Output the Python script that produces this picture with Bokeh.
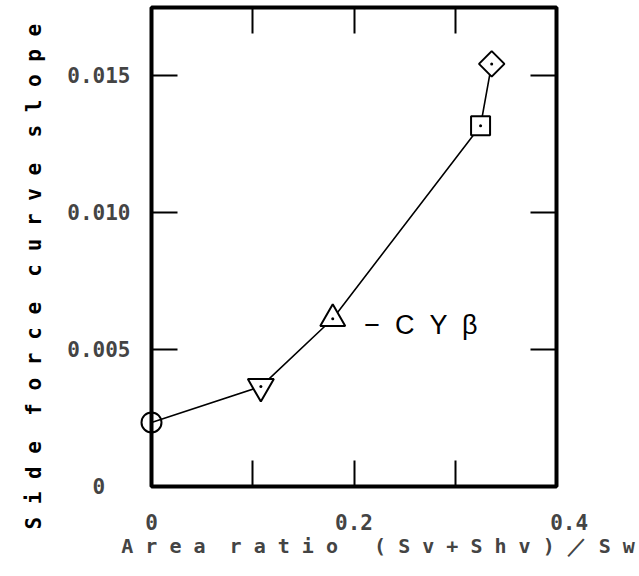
import math
from bokeh.plotting import figure
from bokeh.models import LinearAxis, FixedTicker, Label, Range1d, ColumnDataSource, Title
from bokeh.embed import file_html
from bokeh.resources import INLINE

# ---- data ----
area_ratio = [0.0, 0.108, 0.179, 0.325, 0.336]
cy_beta = [0.00234, 0.00365, 0.00613, 0.01318, 0.01544]
marker_kinds = ["circle", "inverted_triangle", "triangle", "square", "square"]
marker_angle = [0.0, 0.0, 0.0, 0.0, math.pi / 4]
marker_size = [20, 26, 25, 19, 18]
marker_fill = [None, "white", "white", "white", "white"]
dot_points = [1, 2, 3, 4]

x_ticks = [0.0, 0.2, 0.4]
x_minor = [0.1, 0.3]
x_tick_labels = {0.0: "0", 0.2: "0.2", 0.4: "\u00a0\u00a00.4"}
y_ticks = [0.0, 0.005, 0.010, 0.015]
y_tick_labels = {0.0: "0\u00a0\u00a0", 0.005: "0.005", 0.010: "0.010", 0.015: "0.015"}

x_title = "\u00a0\u00a0\u00a0\u00a0A r e a \u00a0r a t i o \u00a0\u00a0( S v + S h v ) \uff0f S w"
y_title = "S i d e \u00a0f o r c e \u00a0c u r v e \u00a0s l o p e"
curve_label = "\u2212 \u00a0C \u00a0Y \u00a0\u03b2"

p = figure(width=639, height=576, output_backend="svg", toolbar_location=None,
           x_range=Range1d(0, 0.4), y_range=Range1d(0, 0.0175),
           x_axis_type=None, y_axis_type=None,
           min_border_left=151, min_border_right=83, min_border_top=7, min_border_bottom=90)
p.background_fill_color = "white"
p.border_fill_color = "white"
p.outline_line_color = "black"
p.outline_line_width = 4
p.grid.visible = False

tick_font = "DejaVu Sans Mono"

def style_axis(ax, show_labels):
    ax.axis_line_color = None
    ax.major_tick_in = 26
    ax.major_tick_out = 0
    ax.minor_tick_in = 26
    ax.minor_tick_out = 0
    ax.major_tick_line_width = 2
    ax.minor_tick_line_width = 2
    ax.major_tick_line_color = "black"
    ax.minor_tick_line_color = "black"
    if not show_labels:
        ax.major_label_text_font_size = "0px"
        ax.major_label_standoff = 0

xb = LinearAxis(ticker=FixedTicker(ticks=x_ticks, minor_ticks=x_minor),
                major_label_overrides=x_tick_labels, axis_label=x_title)
style_axis(xb, True)
xb.major_label_text_font = tick_font
xb.major_label_text_font_size = "21px"
xb.major_label_text_font_style = "bold"
xb.major_label_standoff = 24
xb.axis_label_text_font = "DejaVu Sans Mono"
xb.axis_label_text_font_size = "20px"
xb.axis_label_text_font_style = "bold"
xb.axis_label_standoff = -4
p.add_layout(xb, "below")

xt = LinearAxis(ticker=FixedTicker(ticks=x_ticks, minor_ticks=x_minor),
                major_label_overrides={t: "" for t in x_ticks})
style_axis(xt, False)
p.add_layout(xt, "above")

yl = LinearAxis(ticker=FixedTicker(ticks=y_ticks), major_label_overrides=y_tick_labels)
style_axis(yl, True)
yl.major_label_text_font = tick_font
yl.major_label_text_font_size = "21px"
yl.major_label_text_font_style = "bold"
yl.major_label_standoff = 21
p.add_layout(yl, "left")

yr = LinearAxis(ticker=FixedTicker(ticks=y_ticks), major_label_overrides={t: "" for t in y_ticks})
style_axis(yr, False)
p.add_layout(yr, "right")

# y-axis title (vertical), outside the tick labels
ytitle = Title(text=y_title, align="left", offset=-43, standoff=38,
               text_font="DejaVu Sans Mono", text_font_style="bold",
               text_font_size="21px", text_color="black")
p.add_layout(ytitle, "left")

src = ColumnDataSource(dict(x=area_ratio, y=cy_beta, marker=marker_kinds,
                            angle=marker_angle, size=marker_size, fill=marker_fill))
p.line("x", "y", source=src, line_color="black", line_width=1.6)
p.scatter("x", "y", source=src, marker="marker", size="size", angle="angle",
          fill_color="fill", line_color="black", line_width=2, level="overlay")
p.scatter([area_ratio[i] for i in dot_points], [cy_beta[i] for i in dot_points],
          marker="circle", size=3, fill_color="black", line_color=None, level="overlay")

p.add_layout(Label(x=0.21, y=0.0059, text=curve_label, text_baseline="middle",
                   text_font="Liberation Sans", text_font_size="27px", text_color="black"))

open("out.html", "w").write(file_html(p, INLINE))
